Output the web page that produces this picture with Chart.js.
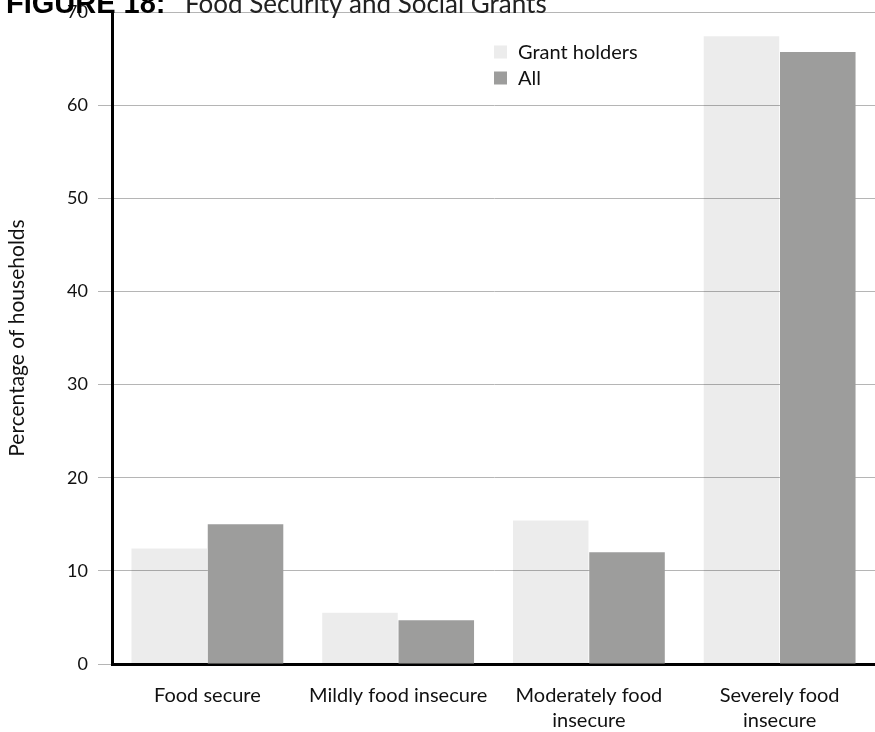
<!DOCTYPE html>
<html>
<head>
<meta charset="utf-8">
<script src="https://cdn.jsdelivr.net/npm/chart.js@4.4.1/dist/chart.umd.min.js"></script>
<style>
html,body{margin:0;padding:0;background:#fff;}
#wrap{width:875px;height:732px;position:relative;}
canvas{display:block;}
</style>
</head>
<body>
<div id="wrap"><canvas id="c" width="875" height="732"></canvas></div>
<script>
// ---- data ----
const categories = [['Food secure'], ['Mildly food insecure'], ['Moderately food', 'insecure'], ['Severely food', 'insecure']];
const seriesNames = ['Grant holders', 'All'];
const grantHolders = [12.4, 5.5, 15.4, 67.4];
const allHouseholds = [15.0, 4.7, 12.0, 65.7];
const yTicks = [0, 10, 20, 30, 40, 50, 60, 70];
const titleBold = 'FIGURE 18:';
const titleText = 'Food Security and Social Grants';
const yTitle = 'Percentage of households';

// ---- styles ----
const FONT = 'Lato, "Open Sans", sans-serif';
const colors = ['rgba(0,0,0,0.075)', '#9d9d9c'];
const legendColors = ['#ececec', '#9d9d9c'];

const titlePlugin = {
  id: 'figTitle',
  afterDraw(chart) {
    const ctx = chart.ctx;
    ctx.save();
    ctx.textBaseline = 'alphabetic';
    ctx.textAlign = 'left';
    ctx.fillStyle = '#000';
    ctx.font = 'bold 29px "Liberation Sans", Arial, sans-serif';
    ctx.fillText(titleBold, 6, 13);
    ctx.fillStyle = '#222';
    ctx.font = '26px ' + FONT;
    ctx.fillText(titleText, 185, 13);
    ctx.restore();
  }
};

const legendPlugin = {
  id: 'customLegend',
  afterDraw(chart) {
    const ctx = chart.ctx;
    ctx.save();
    ctx.font = '20px ' + FONT;
    ctx.textBaseline = 'middle';
    ctx.textAlign = 'left';
    chart.data.datasets.forEach((ds, i) => {
      const y = 52 + i * 26;
      ctx.fillStyle = legendColors[i];
      ctx.fillRect(494, y - 6.5, 13, 13);
      ctx.fillStyle = '#111';
      ctx.fillText(ds.label, 518, y + 1);
    });
    ctx.restore();
  }
};

new Chart(document.getElementById('c'), {
  type: 'bar',
  data: {
    labels: categories,
    datasets: [
      { label: seriesNames[0], data: grantHolders, backgroundColor: colors[0], borderWidth: 0,
        categoryPercentage: 0.8, barPercentage: 0.99 },
      { label: seriesNames[1], data: allHouseholds, backgroundColor: colors[1], borderWidth: 0,
        categoryPercentage: 0.8, barPercentage: 0.99 }
    ]
  },
  options: {
    responsive: false,
    animation: false,
    devicePixelRatio: 1,
    layout: { padding: { top: 12, right: 0, left: 0, bottom: 0 } },
    plugins: {
      legend: { display: false },
      tooltip: { enabled: false },
      title: { display: false }
    },
    scales: {
      x: {
        z: 1,
        grid: { display: false, drawTicks: false },
        border: { display: true, color: '#000', width: 3 },
        ticks: { font: { family: FONT, size: 20, lineHeight: 1.25 }, color: '#111', padding: 19, maxRotation: 0, autoSkip: false },
        afterFit(s) { s.height = 68; s.paddingLeft = 0; s.paddingRight = 0; }
      },
      y: {
        min: 0, max: 70,
        afterBuildTicks(s) { s.ticks = yTicks.map(v => ({ value: v })); },
        grid: { color: '#b5b5b5', lineWidth: 1, tickLength: 14 },
        border: { display: true, color: '#000', width: 3 },
        ticks: { font: { family: FONT, size: 18 }, color: '#111', padding: 10 },
        title: { display: true, text: yTitle, font: { family: FONT, size: 21 }, color: '#111', padding: { top: 5, bottom: 0 } },
        afterFit(s) { s.width = 112; s.paddingTop = 0; s.paddingBottom = 0; }
      }
    }
  },
  plugins: [titlePlugin, legendPlugin]
});
</script>
</body>
</html>
